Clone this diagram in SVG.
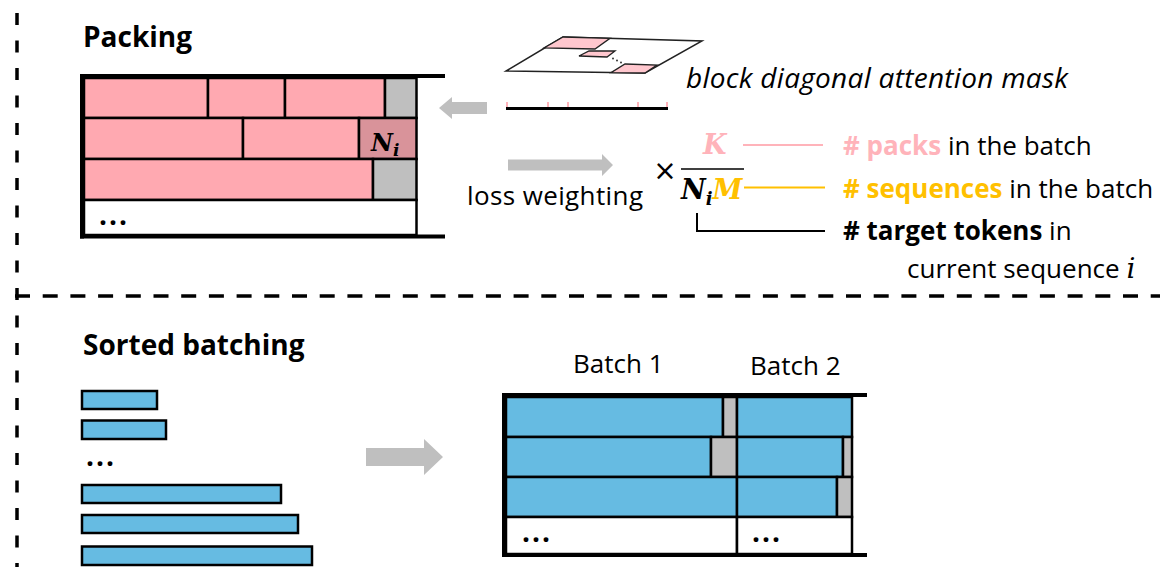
<svg xmlns="http://www.w3.org/2000/svg" width="1160" height="567" viewBox="0 0 1160 567">
  <style>
    text { font-family: "Open Sans", "Noto Sans", "Liberation Sans", sans-serif; fill: #000; }
    .title { font-size: 28px; font-weight: bold; }
    .lbl { font-size: 26px; }
    .it { font-style: italic; }
    .b { font-weight: bold; }
    .math { font-family: "DejaVu Serif", "Liberation Serif", serif; font-weight: bold; font-style: italic; }
    .mi { font-family: "DejaVu Serif", "Liberation Serif", serif; font-style: italic; }
    .dots { font-size: 28px; font-weight: bold; letter-spacing: 2px; }
    .pink { fill: #ffa9b1; stroke: #000; stroke-width: 2.5; }
    .pinkdark { fill: #d9939a; stroke: #000; stroke-width: 2.5; }
    .gray { fill: #bfbfbf; stroke: #000; stroke-width: 2.5; }
    .blue { fill: #66bbe2; stroke: #000; stroke-width: 2.5; }
    .empty { fill: #fff; stroke: #000; stroke-width: 2.5; }
    .rail { stroke: #000; stroke-width: 4; fill: none; }
    .thin { stroke: #000; stroke-width: 2; fill: none; }
    .dash { stroke: #000; stroke-width: 3.5; fill: none; }
    .garrow { fill: #bfbfbf; }
    .mblock { fill: #ffc7ce; stroke: #222; stroke-width: 1.3; }
  </style>

  <!-- section separators -->
  <g id="separators">
    <path class="dash" d="M17,0 V567" stroke-dasharray="12 15.5" stroke-dashoffset="14.5"/>
    <path class="dash" d="M15,296 H1160" stroke-dasharray="15 12.7"/>
  </g>

  <!-- ===== Packing ===== -->
  <text class="title" x="83" y="47">Packing</text>

  <g id="pack-table">
    <rect class="pink" x="84" y="78" width="124" height="40"/>
    <rect class="pink" x="208" y="78" width="77" height="40"/>
    <rect class="pink" x="285" y="78" width="100" height="40"/>
    <rect class="gray" x="385" y="78" width="31.5" height="40"/>
    <rect class="pink" x="84" y="118" width="159" height="41"/>
    <rect class="pink" x="243" y="118" width="116" height="41"/>
    <rect class="pinkdark" x="359" y="118" width="57.5" height="41"/>
    <rect class="pink" x="84" y="159" width="289" height="41"/>
    <rect class="gray" x="373" y="159" width="43.5" height="41"/>
    <rect class="empty" x="84" y="200" width="332.5" height="35"/>
    <line class="rail" x1="80" y1="76" x2="445" y2="76"/>
    <line class="rail" x1="80" y1="236.5" x2="445" y2="236.5"/>
    <line class="rail" x1="82" y1="74" x2="82" y2="238.5"/>
    <text class="math" x="371" y="151" font-size="24">N<tspan font-size="17" dy="5">i</tspan></text>
    <text class="dots" x="99" y="225">...</text>
  </g>

  <g id="attention-mask">
    <polygon points="563,37 702,41 645,73 506,71" fill="#fff" stroke="#222" stroke-width="1.5"/>
    <polygon class="mblock" points="563,37 610,38.4 595,49 544,48"/>
    <polygon class="mblock" points="589,51 615,51 607,57 579,56"/>
    <polygon class="mblock" points="625,64 657,65 645,73 611,72.7"/>
    <circle cx="613" cy="58.5" r="0.9" fill="#222"/>
    <circle cx="617" cy="60.5" r="0.9" fill="#222"/>
    <circle cx="621" cy="62.5" r="0.9" fill="#222"/>
    <g stroke="#ffb3ba" stroke-width="2">
      <line x1="507" y1="102" x2="507" y2="108"/>
      <line x1="548" y1="102" x2="548" y2="108"/>
      <line x1="568" y1="102" x2="568" y2="108"/>
      <line x1="638" y1="102" x2="638" y2="108"/>
      <line x1="667" y1="102" x2="667" y2="108"/>
    </g>
    <line x1="506" y1="108.5" x2="668" y2="108.5" stroke="#000" stroke-width="3"/>
    <text class="it" x="686" y="88" style="font-size:28px" textLength="382" lengthAdjust="spacing">block diagonal attention mask</text>
  </g>

  <text class="lbl" x="467" y="205" textLength="176" lengthAdjust="spacing">loss weighting</text>

  <g id="formula">
    <text x="665" y="180" text-anchor="middle" font-size="28" style="font-family:'DejaVu Sans',sans-serif">×</text>
    <line x1="681" y1="169" x2="744" y2="169" stroke="#000" stroke-width="1.5"/>
    <text class="math" x="703" y="154" font-size="27" style="fill:#ffb3ba">K</text>
    <text class="math" x="681" y="199" font-size="27">N<tspan font-size="18" dy="6">i</tspan><tspan dy="-6" style="fill:#ffc000">M</tspan></text>
  </g>

  <g id="formula-labels">
    <text class="lbl" x="843" y="155"><tspan class="b" style="fill:#ffb3ba"># packs</tspan> in the batch</text>
    <text class="lbl" x="843" y="198"><tspan class="b" style="fill:#ffc000"># sequences</tspan> in the batch</text>
    <text class="lbl" x="843" y="240"><tspan class="b"># target tokens</tspan> in</text>
    <text class="lbl" x="907" y="278">current sequence <tspan class="mi" font-size="28">i</tspan></text>
  </g>

  <!-- ===== Sorted batching ===== -->
  <text class="title" x="83" y="355">Sorted batching</text>

  <g id="sorted-list">
    <rect class="blue" x="82" y="391" width="75" height="18"/>
    <rect class="blue" x="82" y="420.5" width="84" height="18.5"/>
    <text class="dots" x="86" y="466">...</text>
    <rect class="blue" x="82" y="485" width="199" height="18"/>
    <rect class="blue" x="82" y="515" width="216" height="18"/>
    <rect class="blue" x="82" y="546.5" width="230" height="18.5"/>
  </g>

  <g id="batch-table">
    <text class="lbl" x="573" y="373">Batch 1</text>
    <text class="lbl" x="750" y="375">Batch 2</text>
    <!-- batch 1 -->
    <rect class="blue" x="506" y="397" width="217" height="40"/>
    <rect class="gray" x="723" y="397" width="14" height="40"/>
    <rect class="blue" x="506" y="437" width="205" height="40"/>
    <rect class="gray" x="711" y="437" width="26" height="40"/>
    <rect class="blue" x="506" y="477" width="231" height="40"/>
    <rect class="empty" x="506" y="517" width="231" height="37"/>
    <!-- batch 2 -->
    <rect class="blue" x="737" y="397" width="115" height="40"/>
    <rect class="blue" x="737" y="437" width="106" height="40"/>
    <rect class="gray" x="843" y="437" width="9" height="40"/>
    <rect class="blue" x="737" y="477" width="100" height="40"/>
    <rect class="gray" x="837" y="477" width="15" height="40"/>
    <rect class="empty" x="737" y="517" width="115" height="37"/>
    <line class="rail" x1="502" y1="395" x2="867" y2="395"/>
    <line class="rail" x1="502" y1="555" x2="867" y2="555"/>
    <line class="rail" x1="504" y1="393" x2="504" y2="557"/>
    <text class="dots" x="522" y="542">...</text>
    <text class="dots" x="752" y="542">...</text>
  </g>

  <!-- connectors -->
  <g id="connectors">
    <polygon class="garrow" points="487,102 452,102 452,97 439,108 452,119 452,114 487,114"/>
    <polygon class="garrow" points="508,159.5 602,159.5 602,154 613,165 602,176 602,170.5 508,170.5"/>
    <polygon class="garrow" points="366,448 424,448 424,439 443,457 424,475 424,466 366,466"/>
    <line x1="743" y1="145" x2="823" y2="145" stroke="#ffb3ba" stroke-width="1.8"/>
    <line x1="744" y1="187.5" x2="825" y2="187.5" stroke="#ffc000" stroke-width="2"/>
    <path d="M697,213 V231 H825" class="thin"/>
  </g>
</svg>
